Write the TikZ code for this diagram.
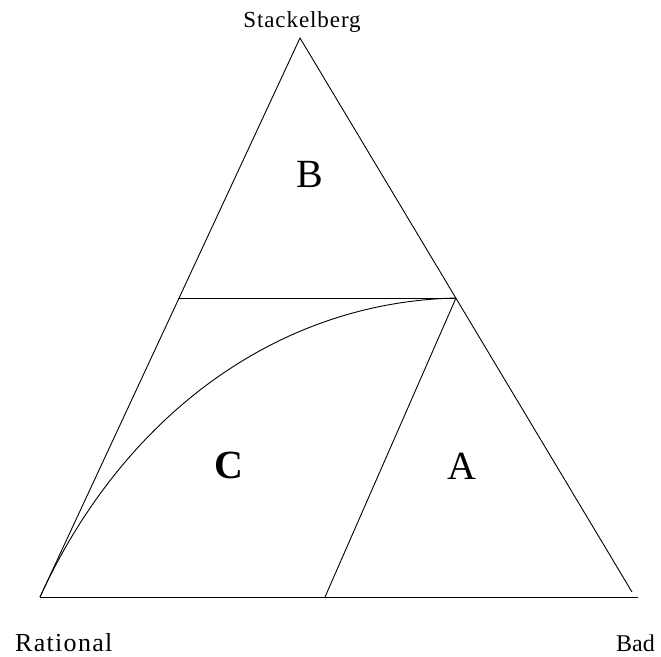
\documentclass[tikz,border=0pt]{standalone}
\usepackage{fontspec}
\setmainfont{Liberation Serif}
\begin{document}
\begin{tikzpicture}[x=1pt,y=-1pt,
  edge/.style={line width=0.9pt,black},
  lbl/.style={inner sep=0pt,anchor=base},
  region/.style={inner sep=0pt,anchor=base,font=\fontsize{40}{48}\selectfont}]
\useasboundingbox (0,0) rectangle (661,656);
\coordinate (apex) at (300,38);
\coordinate (bl) at (40,597);
\coordinate (br) at (632,592);
\coordinate (bend) at (638,597);
\coordinate (ml) at (179,298);
\coordinate (mr) at (456,298);
\coordinate (bm) at (325,597);
\draw[edge] (bl) -- (apex) -- (br);
\draw[edge] (bl) -- (bend);
\draw[edge] (ml) -- (mr);
\draw[edge] (mr) -- (bm);
\draw[edge] (bl) .. controls (122,418) and (275,302) .. (mr);
\node[lbl,font=\fontsize{23}{27}\selectfont\addfontfeature{LetterSpace=4}] (stack) at (302,27) {Stackelberg};
\node[lbl,anchor=base west,font=\fontsize{26}{31}\selectfont\addfontfeature{LetterSpace=5}] (rat) at (15,651) {Rational};
\node[lbl,anchor=base east,font=\fontsize{24}{29}\selectfont] (bad) at (655,651) {Bad};
\node[region] (B) at (310,187) {B};
\node[region,font=\fontsize{40}{48}\selectfont\bfseries] (C) at (229,478) {C};
\node[region] (A) at (462,479) {A};
\end{tikzpicture}
\end{document}
